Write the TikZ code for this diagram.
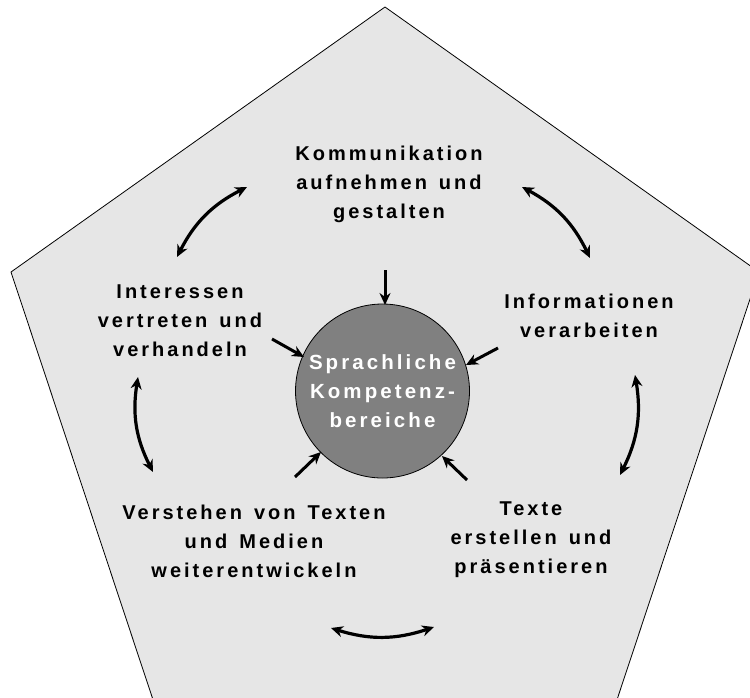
\documentclass[tikz,border=0pt]{standalone}
\usepackage{fontspec}
\setmainfont{Liberation Sans}[LetterSpace=15,WordSpace=1.4]
\usetikzlibrary{arrows.meta}
\definecolor{bgpent}{RGB}{230,230,230}
\definecolor{core}{RGB}{128,128,128}
\tikzset{
  lbl/.style={align=center,font=\fontsize{20}{29}\selectfont\bfseries,text=black,inner sep=0pt},
  pent/.style={draw=black,line width=0.8pt,fill=bgpent},
  corenode/.style={circle,draw=black,line width=0.8pt,fill=core,minimum size=174pt,inner sep=0pt,align=center,font=\fontsize{20.5}{29}\selectfont\bfseries,text=white},
  inarrow/.style={line width=3pt,-{Stealth[length=12pt,width=11pt]}},
  cyc/.style={line width=3.2pt,{Stealth[length=12pt,width=11pt]}-{Stealth[length=12pt,width=11pt]},bend left=18},
}
\begin{document}
\begin{tikzpicture}[x=1pt,y=-1pt]
\useasboundingbox (0,0) rectangle (750,697);
\begin{scope}
\clip (0,0) rectangle (750,697);
\filldraw[pent] (385,7) -- (759,272) -- (597,760) -- (173,760) -- (11,272) -- cycle;
\end{scope}

\node[corenode] (core) at (382.5,391) {Sprachliche\\Kompetenz-\\bereiche};

\node[lbl] (komm) at (389,184) {Kommunikation\\aufnehmen und\\gestalten};
\node[lbl] (info) at (589,316) {Informationen\\verarbeiten};
\node[lbl] (text) at (531,540) {Texte\\erstellen und\\präsentieren};
\node[lbl] (vers) at (254,541) {Verstehen von Texten\\und Medien\\weiterentwickeln};
\node[lbl] (inte) at (180,321) {Interessen\\vertreten und\\verhandeln};

% inward arrows
\coordinate (t0) at (385,270);
\coordinate (t1) at (385,305);
\coordinate (l0) at (272,339);
\coordinate (l1) at (304,357);
\coordinate (r0) at (498,348);
\coordinate (r1) at (466,365);
\coordinate (bl0) at (295,477);
\coordinate (bl1) at (321,452);
\coordinate (br0) at (467,480);
\coordinate (br1) at (442,456);
\draw[inarrow] (t0) -- (t1);
\draw[inarrow] (l0) -- (l1);
\draw[inarrow] (r0) -- (r1);
\draw[inarrow] (bl0) -- (bl1);
\draw[inarrow] (br0) -- (br1);

% cycle arrows
\coordinate (a1) at (177,257);
\coordinate (a2) at (247,187);
\coordinate (b1) at (522,187);
\coordinate (b2) at (590,258);
\coordinate (c1) at (635,375);
\coordinate (c2) at (620,475);
\coordinate (d1) at (434,627);
\coordinate (d2) at (331,628);
\coordinate (e1) at (153,472);
\coordinate (e2) at (138,377);
\draw[cyc] (a1) to (a2);
\draw[cyc] (b1) to (b2);
\draw[cyc] (c1) to (c2);
\draw[cyc] (d1) to (d2);
\draw[cyc] (e1) to (e2);
\end{tikzpicture}
\end{document}
